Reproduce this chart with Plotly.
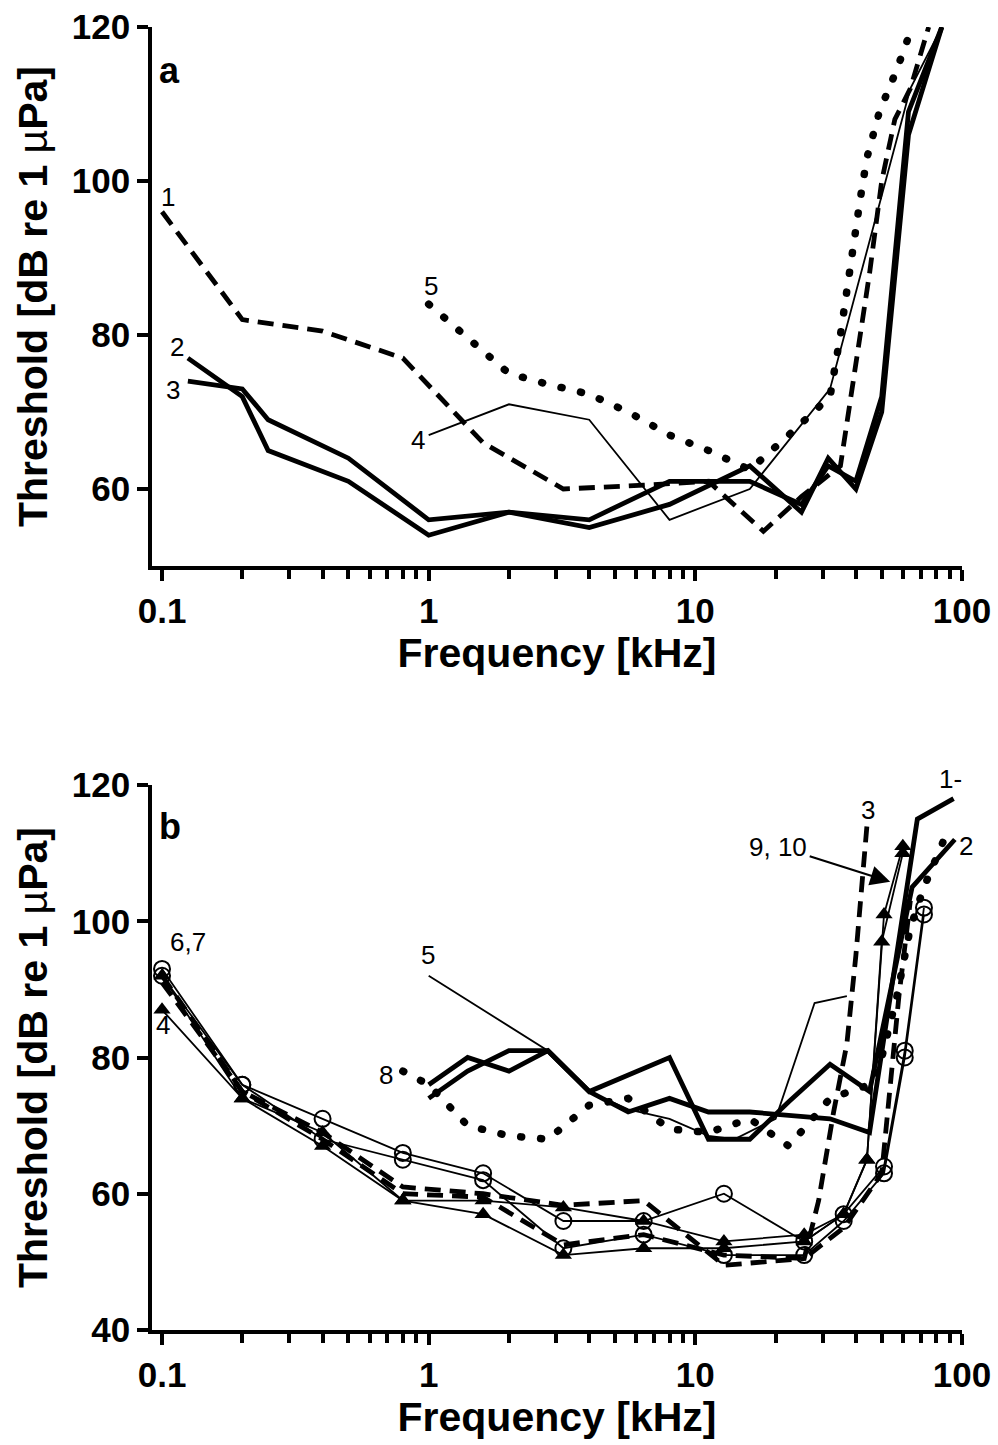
import numpy as np
import plotly.graph_objects as go

# ---------------- Panel a data (frequency kHz, threshold dB) ----------------
a1_f = [0.1, 0.2, 0.4, 0.8, 1.6, 3.2, 6.4, 11.2, 18, 25, 35, 40, 45, 50, 56, 64, 75]
a1_t = [96, 82, 80.5, 77, 66, 60, 60.5, 61, 54.5, 59, 63, 76, 88, 100, 108, 112, 120]
a2_f = [0.125, 0.2, 0.25, 0.5, 1, 2, 4, 8, 16, 25, 31.5, 40, 50, 63, 84]
a2_t = [77, 72, 65, 61, 54, 57, 55, 58, 63, 57, 64, 60, 70, 106, 120]
a3_f = [0.125, 0.2, 0.25, 0.5, 1, 2, 4, 8, 16, 25, 31.5, 40, 50, 63, 84]
a3_t = [74, 73, 69, 64, 56, 57, 56, 61, 61, 58, 63, 61, 72, 109, 120]
a4_f = [1, 2, 4, 8, 16, 32, 64, 84]
a4_t = [67, 71, 69, 56, 60, 73, 112, 120]
a5_f = [1, 1.4, 2, 2.8, 4, 5.6, 8, 11.2, 16, 22.4, 32, 35, 38, 41.5, 44, 49, 57, 65]
a5_t = [84, 79.5, 75, 73.6, 72.3, 70, 67, 65, 62.5, 67, 72, 80, 89, 97.6, 103, 109, 114.5, 120]

# ---------------- Panel b data ----------------
b1_f = [1, 1.4, 2, 2.8, 4, 5.6, 8, 11.2, 16, 22.4, 32, 45, 68, 93]
b1_t = [74, 78, 81, 81, 75, 72, 74, 72, 72, 71.5, 71, 69, 115, 118]
b2_f = [1, 1.4, 2, 2.8, 4, 5.6, 8, 11.2, 16, 22.4, 32, 45, 65, 94]
b2_t = [76, 80, 78, 81, 75, 77.5, 80, 68, 68, 73.5, 79, 75, 105, 112]
b3_f = [0.1, 0.2, 0.4, 0.8, 1.6, 3.2, 6.4, 12.8, 25.6, 29, 33, 37, 40, 44]
b3_t = [92, 75, 69, 61, 60, 58.3, 59, 49.5, 50.5, 59, 72, 82, 95, 114]
b10_f = [0.1, 0.2, 0.4, 0.8, 1.6, 3.2, 6.4, 12.8, 25.6, 36, 50, 58, 64]
b10_t = [91, 75, 68, 60, 59.5, 52.5, 54, 51, 50.5, 55, 63, 89, 103]
b4_f = [0.1, 0.2, 0.4, 0.8, 1.6, 3.2, 6.4, 12.8, 25.6, 36, 44, 50, 60]
b4_t = [87, 74, 67, 59, 57, 51, 52, 52, 53, 57, 65, 97, 110]
b9_f = [0.1, 0.2, 0.4, 0.8, 1.6, 3.2, 6.4, 12.8, 25.6, 36, 44, 51, 60]
b9_t = [92, 74, 69, 59, 59, 58, 56, 53, 54, 57, 65, 101, 111]
b6_f = [0.1, 0.2, 0.4, 0.8, 1.6, 3.2, 6.4, 12.8, 25.6, 36, 51, 61, 72]
b6_t = [93, 76, 71, 66, 63, 56, 56, 60, 53, 57, 64, 81, 102]
b7_f = [0.1, 0.2, 0.4, 0.8, 1.6, 3.2, 6.4, 12.8, 25.6, 36, 51, 61, 72]
b7_t = [92, 76, 68, 65, 62, 52, 54, 51, 51, 56, 63, 80, 101]
b5_f = [1, 2.8, 4, 5.6, 8, 11.2, 14, 20, 28, 37]
b5_t = [92, 81, 75, 72.4, 71, 68.5, 68, 71, 88, 89]
b8_f = [0.8, 1, 1.4, 2, 2.8, 4, 5.6, 8, 11.2, 16, 22.4, 32, 45, 50, 57, 64, 72, 90]
b8_t = [78, 76, 70, 68.5, 68, 73, 74, 69.5, 69, 71, 67, 74, 76, 80, 89, 99, 105, 114]

# tick labels
x_major = [0.1, 1, 10, 100]
x_major_text = ["0.1", "1", "10", "100"]
x_minor = [m * d for d in (0.1, 1, 10) for m in range(2, 10)]
ya_ticks = [60, 80, 100, 120]
yb_ticks = [40, 60, 80, 100, 120]

FONT = "Liberation Sans, Arial, sans-serif"
BLACK = "black"
THICK, THIN = 4.8, 1.8
DASH = "16px,9px"
DOT = "1px,19px"   # rendered with round caps -> round dots

fig = go.Figure()


def add(f, t, xa, ya, width, dash="solid", mode="lines", symbol=None, msize=13):
    kw = dict(x=f, y=t, xaxis=xa, yaxis=ya, mode=mode, showlegend=False,
              line=dict(color=BLACK, width=width, dash=dash), hoverinfo="skip")
    if symbol is not None:
        if "open" in symbol:
            kw["marker"] = dict(symbol=symbol, size=msize, color=BLACK,
                                line=dict(color=BLACK, width=2))
        else:
            kw["marker"] = dict(symbol=symbol, size=msize, color=BLACK)
    fig.add_trace(go.Scatter(**kw))


# panel a
add(a1_f, a1_t, "x", "y", THICK, DASH)
add(a2_f, a2_t, "x", "y", THICK)
add(a3_f, a3_t, "x", "y", THICK)
add(a4_f, a4_t, "x", "y", THIN)
add(a5_f, a5_t, "x", "y", 7.5, DOT)

# panel b
add(b8_f, b8_t, "x2", "y2", 7.5, DOT)
add(b1_f, b1_t, "x2", "y2", THICK)
add(b2_f, b2_t, "x2", "y2", THICK)
add(b5_f, b5_t, "x2", "y2", THIN)
add(b3_f, b3_t, "x2", "y2", THICK, DASH)
add(b10_f, b10_t, "x2", "y2", THICK, DASH)
add(b6_f, b6_t, "x2", "y2", THIN, mode="lines+markers", symbol="circle-open", msize=16)
add(b7_f, b7_t, "x2", "y2", THIN, mode="lines+markers", symbol="circle-open", msize=16)
add(b4_f, b4_t, "x2", "y2", THIN, mode="lines+markers", symbol="triangle-up", msize=15)
add(b9_f, b9_t, "x2", "y2", THIN, mode="lines+markers", symbol="triangle-up", msize=15)

W, H = 998, 1445
XL, XR = 152 / W, 962 / W
xr = [np.log10(0.1) - 10 / 266, 2.0]

common_x = dict(type="log", range=xr, domain=[XL, XR], showline=True, linewidth=3.5,
                linecolor=BLACK, ticks="outside", ticklen=11, tickwidth=3.5, tickcolor=BLACK,
                tickvals=x_major, ticktext=x_major_text, showgrid=False, zeroline=False,
                automargin=False,
                tickfont=dict(family=FONT, size=35, color=BLACK, weight="bold"),
                minor=dict(tickvals=x_minor, ticks="outside", ticklen=9, tickwidth=3.5,
                           tickcolor=BLACK, showgrid=False),
                title=dict(text="Frequency [kHz]", standoff=10,
                           font=dict(family=FONT, size=41, color=BLACK, weight="bold")))
common_y = dict(showline=True, linewidth=3.5, linecolor=BLACK, ticks="outside", ticklen=11,
                tickwidth=3.5, tickcolor=BLACK, showgrid=False, zeroline=False,
                automargin=False,
                tickfont=dict(family=FONT, size=35, color=BLACK, weight="bold"),
                title=dict(text="Threshold [dB re 1 <span style='font-weight:normal'>µ</span>Pa]",
                           standoff=12,
                           font=dict(family=FONT, size=41, color=BLACK, weight="bold")))

fig.update_layout(
    width=W, height=H, autosize=False, plot_bgcolor="white", paper_bgcolor="white",
    margin=dict(l=0, r=0, t=0, b=0),
    xaxis=dict(anchor="y", **common_x),
    yaxis=dict(anchor="x", domain=[1 - 566 / H, 1 - 27 / H], range=[50, 120],
               tickvals=ya_ticks, **common_y),
    xaxis2=dict(anchor="y2", **common_x),
    yaxis2=dict(anchor="x2", domain=[1 - 1330 / H, 1 - 785 / H], range=[40, 120],
                tickvals=yb_ticks, **common_y),
)

lab = dict(family=FONT, size=26, color=BLACK)
bold = dict(family=FONT, size=36, color=BLACK, weight="bold")
# (xref, yref, freq, level, text, font, xshift, yshift)
labels = [
    ("x", "y", 0.107, 114.4, "a", bold, 0, 0),
    ("x", "y", 0.105, 97.9, "1", lab, 0, 0),
    ("x", "y", 0.114, 78.4, "2", lab, 0, 0),
    ("x", "y", 0.110, 72.9, "3", lab, 0, 0),
    ("x", "y", 0.91, 66.4, "4", lab, 0, 0),
    ("x", "y", 1.02, 86.4, "5", lab, 0, 0),
    ("x2", "y2", 0.107, 113.9, "b", bold, 0, 0),
    ("x2", "y2", 0.125, 96.9, "6,7", lab, 0, 0),
    ("x2", "y2", 0.101, 84.8, "4", lab, 0, 0),
    ("x2", "y2", 0.99, 95.0, "5", lab, 0, 0),
    ("x2", "y2", 0.69, 77.5, "8", lab, 0, 0),
    ("x2", "y2", 44.6, 116.3, "3", lab, 0, 0),
    ("x2", "y2", 20.5, 110.9, "9, 10", lab, 0, 0),
    ("x2", "y2", 90.4, 119.9, "1-", lab, 0, 7),
    ("x2", "y2", 99.9, 111.0, "2", lab, 4, 0),
]
anns = []
for xa, ya, fx, ty, txt, fnt, xs, ys in labels:
    anns.append(dict(x=np.log10(fx), y=ty, xref=xa, yref=ya, text=txt, showarrow=False,
                     font=fnt, xanchor="center", yanchor="middle", xshift=xs, yshift=ys))
# arrow for "9, 10"
anns.append(dict(x=np.log10(53.8), y=105.8, ax=np.log10(26.5), ay=109.6, xref="x2", yref="y2",
                 axref="x2", ayref="y2", text="", showarrow=True, arrowhead=2, arrowsize=1.8,
                 arrowwidth=2.2, arrowcolor=BLACK))
fig.update_layout(annotations=anns)

# round line caps so that the sparse dash pattern gives round dots
post = """
function roundDots(){
  document.querySelectorAll('path.js-line').forEach(function(p){
    var d = p.style.strokeDasharray || p.getAttribute('stroke-dasharray') || '';
    if (d.indexOf('19px') !== -1) { p.style.strokeLinecap = 'round'; }
  });
}
roundDots();
var gd = document.getElementsByClassName('plotly-graph-div')[0];
if (gd && gd.on) { gd.on('plotly_afterplot', roundDots); }
"""
fig.write_html("out.html", post_script=post)
